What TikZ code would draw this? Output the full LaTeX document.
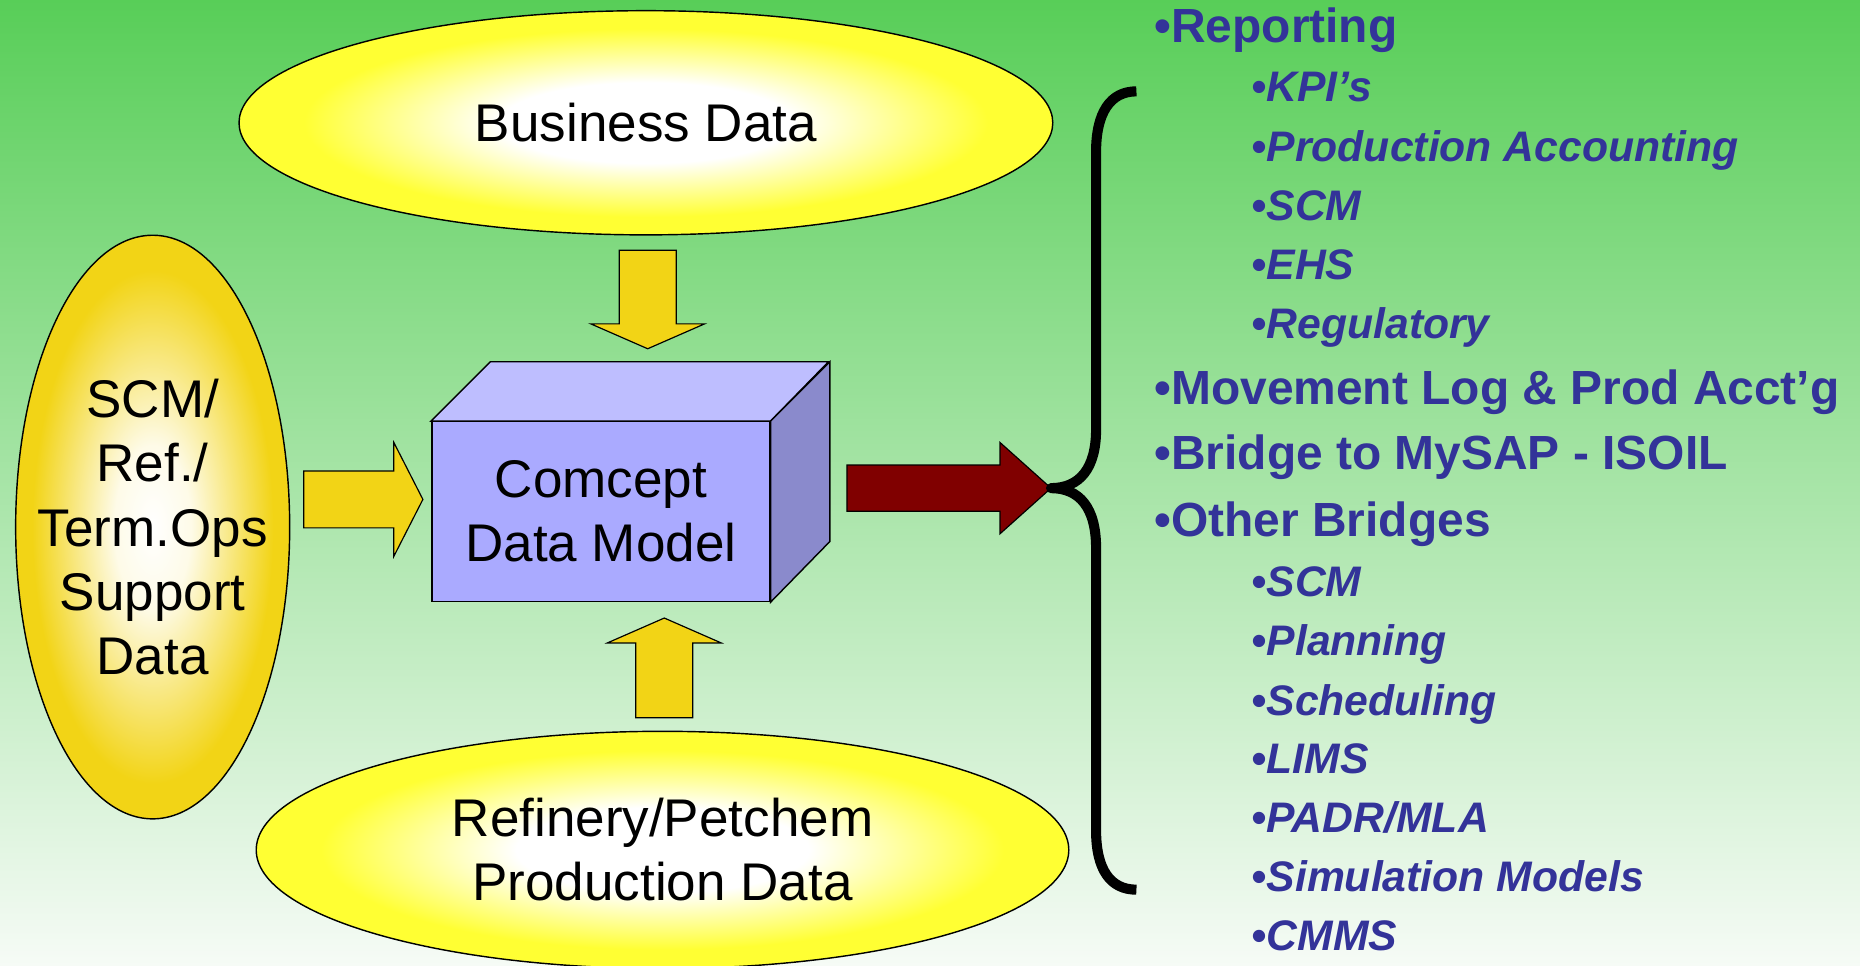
\documentclass[tikz,border=0pt]{standalone}
\usepackage{fontspec}
\setmainfont{Liberation Sans}
\usetikzlibrary{shapes.geometric}

\definecolor{bgtop}{RGB}{88,206,88}
\definecolor{bgbot}{RGB}{246,251,246}
\definecolor{lemon}{RGB}{255,255,51}
\definecolor{gold}{RGB}{242,212,22}
\definecolor{cubefront}{RGB}{170,170,255}
\definecolor{cubetop}{RGB}{190,190,255}
\definecolor{cubeside}{RGB}{138,138,204}
\definecolor{darkred}{RGB}{128,0,0}
\definecolor{listblue}{RGB}{51,51,153}

% soft white glow in the middle of the data ellipses
\pgfdeclareradialshading{glowlemon}{\pgfpointorigin}{color(0bp)=(white); color(9bp)=(white); color(21bp)=(lemon); color(25bp)=(lemon); color(50bp)=(lemon)}
\pgfdeclareradialshading{glowgold}{\pgfpointorigin}{color(0bp)=(white); color(7bp)=(white!90!gold); color(22bp)=(gold); color(25bp)=(gold); color(50bp)=(gold)}

\tikzset{
  bigtext/.style={font=\fontsize{44.7}{54}\selectfont, align=center, text=black},
  dataell/.style={ellipse, draw=black, line width=1.2pt, inner sep=0pt, shade, bigtext},
  blockarrow/.style={draw=black, line width=1pt, line join=miter},
  lvlone/.style={anchor=base west, inner sep=0pt, text=listblue, font=\bfseries\fontsize{40.4}{48}\selectfont},
  lvltwo/.style={anchor=base west, inner sep=0pt, text=listblue, font=\bfseries\itshape\fontsize{36}{44}\selectfont},
}

\begin{document}
\begin{tikzpicture}[x=1pt, y=-1pt]
  \useasboundingbox (0,0) rectangle (1568,814);
  \shade[top color=bgtop, bottom color=bgbot] (0,0) rectangle (1568,814);

  % data sources
  \node[dataell, shading=glowlemon, minimum width=686pt, minimum height=189pt] (biz) at (544.5,103.5) {Business Data};
  \node[dataell, shading=glowgold, minimum width=231pt, minimum height=492pt] (sup) at (128.7,444.3) {};
  \node[bigtext, inner sep=0pt] (suptext) at (sup.center) {SCM/\\Ref./\\Term.Ops\\Support\\Data};
  \node[dataell, shading=glowlemon, minimum width=685pt, minimum height=200pt] (ref) at (558.5,716.5) {Refinery/Petchem\\Production Data};

  % the data model cube
  \node[rectangle, draw=black, line width=1.2pt, fill=cubefront, inner sep=0pt,
        minimum width=285pt, minimum height=151.5pt, bigtext] (cube) at (506.5,431.3) {Comcept\\Data Model};
  \draw[fill=cubetop, line width=1.2pt, line join=miter] (cube.north west) -- ++(50,-50) -- ++(285,0) -- (cube.north east) -- cycle;
  \draw[fill=cubeside, line width=1.2pt, line join=miter] (cube.north east) -- ++(50,-50) -- ++(0,151.5) -- (cube.south east) -- cycle;

  % feeding arrows
  \draw[blockarrow, fill=gold] (522,211) -- (570,211) -- (570,273) -- (594,273) -- (546,294) -- (498,273) -- (522,273) -- cycle;
  \draw[blockarrow, fill=gold] (536,605) -- (584,605) -- (584,542) -- (608,542) -- (560,521) -- (512,542) -- (536,542) -- cycle;
  \draw[blockarrow, fill=gold] (256,397) -- (332,397) -- (332,373) -- (356.5,421) -- (332,469) -- (332,445) -- (256,445) -- cycle;

  % output arrow and brace
  \coordinate (bracetip) at (886,411.5);
  \draw[blockarrow, fill=darkred] (714,392) -- (843,392) -- (843,373) -- (bracetip) -- (843,450) -- (843,431) -- (714,431) -- cycle;
  \draw[line width=8.5pt, line cap=butt, line join=round]
    (958,77) .. controls (936,77) and (924,95) .. (924,128)
    -- (924,362) .. controls (924,395) and (910,411.5) .. (bracetip)
    .. controls (910,411.5) and (924,428) .. (924,462)
    -- (924,700) .. controls (924,733) and (936,750) .. (958,750);

  % outputs
  \node[lvlone] (rep)  at (973,36)    {•Reporting};
  \node[lvltwo] (kpi)  at (1055,85.7) {•KPI’s};
  \node[lvltwo] (pacc) at (1055,136)  {•Production Accounting};
  \node[lvltwo] (scma) at (1055,186)  {•SCM};
  \node[lvltwo] (ehs)  at (1055,235.5){•EHS};
  \node[lvltwo] (reg)  at (1055,285.2){•Regulatory};
  \node[lvlone] (mov)  at (973,340.6) {•Movement Log \& Prod Acct’g};
  \node[lvlone] (brg)  at (973,395.7) {•Bridge to MySAP - ISOIL};
  \node[lvlone] (oth)  at (973,451.9) {•Other Bridges};
  \node[lvltwo] (scmb) at (1055,503)  {•SCM};
  \node[lvltwo] (pln)  at (1055,552.8){•Planning};
  \node[lvltwo] (sch)  at (1055,602.8){•Scheduling};
  \node[lvltwo] (lims) at (1055,652)  {•LIMS};
  \node[lvltwo] (padr) at (1055,701.7){•PADR/MLA};
  \node[lvltwo] (sim)  at (1055,751.7){•Simulation Models};
  \node[lvltwo] (cmms) at (1055,801)  {•CMMS};
\end{tikzpicture}
\end{document}
